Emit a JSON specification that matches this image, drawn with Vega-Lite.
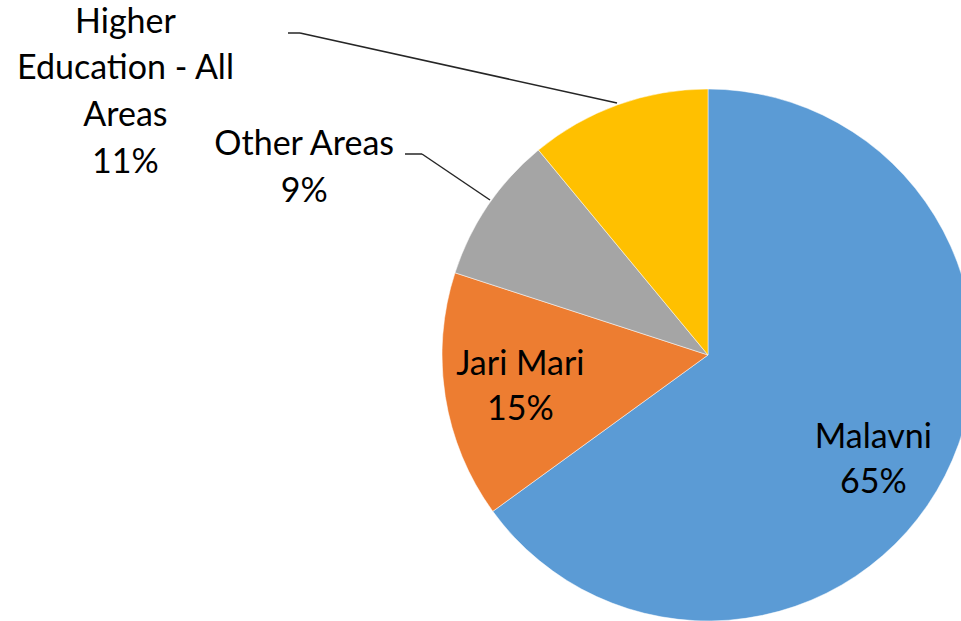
{
  "$schema": "https://vega.github.io/schema/vega-lite/v6.json",
  "autosize": {"type": "none"},
  "padding": {"left": 455, "top": 89, "right": 0, "bottom": 0},
  "width": 506,
  "height": 532,
  "background": "#ffffff",
  "config": {"view": {"stroke": null}},
  "data": {
    "values": [
      {"cat": "Malavni", "value": 65, "ord": 1, "label": "Malavni\n65%"},
      {"cat": "Jari Mari", "value": 15, "ord": 2, "label": "Jari Mari\n15%"},
      {"cat": "Other Areas", "value": 9, "ord": 3, "label": "Other Areas\n9%"},
      {"cat": "Higher Education - All Areas", "value": 11, "ord": 4, "label": "Higher\nEducation - All\nAreas\n11%"}
    ]
  },
  "layer": [
    {
      "encoding": {
        "theta": {"field": "value", "type": "quantitative", "stack": true},
        "order": {"field": "ord", "type": "quantitative"}
      },
      "layer": [
        {
          "mark": {"type": "arc", "radius": 266, "stroke": "#ffffff", "strokeWidth": 0.5},
          "encoding": {
            "color": {
              "field": "cat",
              "type": "nominal",
              "scale": {
                "domain": ["Malavni", "Jari Mari", "Other Areas", "Higher Education - All Areas"],
                "range": ["#5B9BD5", "#ED7D31", "#A5A5A5", "#FFC000"]
              },
              "legend": null
            }
          }
        },
        {
          "mark": {"type": "text", "radius": 190, "dx": -4, "dy": 7, "font": "Lato", "fontSize": 34, "lineBreak": "\n", "lineHeight": 45, "align": "center", "baseline": "alphabetic", "color": "#000000"},
          "encoding": {"text": {"condition": {"test": "datum.cat === 'Malavni'", "field": "label"}, "value": ""}}
        },
        {
          "mark": {"type": "text", "radius": 190, "dx": 0, "dy": -10, "font": "Lato", "fontSize": 34, "lineBreak": "\n", "lineHeight": 45, "align": "center", "baseline": "alphabetic", "color": "#000000"},
          "encoding": {"text": {"condition": {"test": "datum.cat === 'Jari Mari'", "field": "label"}, "value": ""}}
        },
        {
          "mark": {"type": "text", "radius": 400, "dx": -73, "dy": 25, "font": "Lato", "fontSize": 34, "lineBreak": "\n", "lineHeight": 47, "align": "center", "baseline": "alphabetic", "color": "#000000"},
          "encoding": {"text": {"condition": {"test": "datum.cat === 'Other Areas'", "field": "label"}, "value": ""}}
        },
        {
          "mark": {"type": "text", "radius": 350, "dx": -464, "dy": 7, "font": "Lato", "fontSize": 34, "lineBreak": "\n", "lineHeight": 46.7, "align": "center", "baseline": "alphabetic", "color": "#000000"},
          "encoding": {"text": {"condition": {"test": "datum.cat === 'Higher Education - All Areas'", "field": "label"}, "value": ""}}
        }
      ]
    },
    {
      "data": {"values": [{"seg": "a"}]},
      "mark": {"type": "rule", "color": "#262626", "strokeWidth": 1.5},
      "encoding": {"x": {"value": -167}, "y": {"value": -56}, "x2": {"value": -155}, "y2": {"value": -56}}
    },
    {
      "data": {"values": [{"seg": "b"}]},
      "mark": {"type": "rule", "color": "#262626", "strokeWidth": 1.5},
      "encoding": {"x": {"value": -155}, "y": {"value": -56}, "x2": {"value": 162}, "y2": {"value": 14}}
    },
    {
      "data": {"values": [{"seg": "c"}]},
      "mark": {"type": "rule", "color": "#262626", "strokeWidth": 1.5},
      "encoding": {"x": {"value": -50}, "y": {"value": 65}, "x2": {"value": -33}, "y2": {"value": 65}}
    },
    {
      "data": {"values": [{"seg": "d"}]},
      "mark": {"type": "rule", "color": "#262626", "strokeWidth": 1.5},
      "encoding": {"x": {"value": -33}, "y": {"value": 65}, "x2": {"value": 35}, "y2": {"value": 111}}
    }
  ]
}
